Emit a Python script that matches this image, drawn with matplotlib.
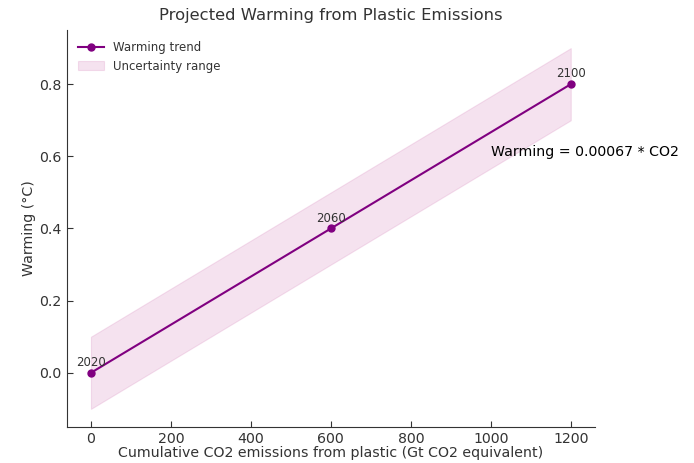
import matplotlib
matplotlib.use("Agg")
import matplotlib.pyplot as plt
import numpy as np

# Cumulative emissions (Gt CO2 eq) and projected warming
co2 = [0, 600, 1200]
warming = [0.0, 0.4, 0.8]
years = ["2020", "2060", "2100"]
uncertainty = 0.1

PURPLE = "#800080"
BAND = "#d070b0"
INK = "#333333"

fig = plt.figure(figsize=(6.94, 4.63), dpi=100)
ax = fig.add_axes([0.0965, 0.078, 0.7605, 0.857])

lo = np.array(warming) - uncertainty
hi = np.array(warming) + uncertainty
ax.plot(co2, warming, color=PURPLE, marker="o", markersize=5, lw=1.5,
        label="Warming trend")
ax.fill_between(co2, lo, hi, color=BAND, alpha=0.2, linewidth=0.8,
                label="Uncertainty range")

for x, y, yr in zip(co2, warming, years):
    ax.annotate(yr, (x, y), textcoords="offset points", xytext=(0, 5),
                ha="center", fontsize=8.5, color=INK)

ax.text(1000, 0.6, "Warming = 0.00067 * CO2", fontsize=10.2, color="black")

ax.set_title("Projected Warming from Plastic Emissions", fontsize=11.8,
             color=INK, pad=7)
ax.set_xlabel("Cumulative CO2 emissions from plastic (Gt CO2 equivalent)",
              fontsize=10.2, color=INK, labelpad=0)
ax.set_ylabel("Warming (°C)", fontsize=10.2, color=INK, labelpad=2)

ax.set_xticks([0, 200, 400, 600, 800, 1000, 1200])
ax.set_yticks([0.0, 0.2, 0.4, 0.6, 0.8])
ax.tick_params(direction="in", labelsize=10.2, colors=INK, length=4, pad=4)
for s in ("top", "right"):
    ax.spines[s].set_visible(False)
for s in ("left", "bottom"):
    ax.spines[s].set_color(INK)

ax.legend(loc="upper left", frameon=False, fontsize=8.5,
          labelcolor=INK, handlelength=2.2)

fig.savefig("out.png", dpi=100, facecolor="white")
